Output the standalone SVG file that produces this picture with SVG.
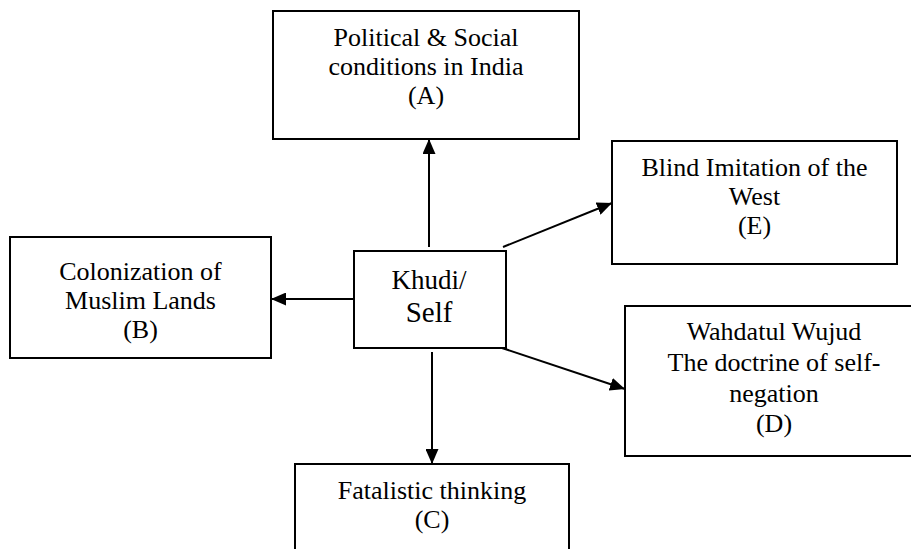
<svg xmlns="http://www.w3.org/2000/svg" width="911" height="549" viewBox="0 0 911 549">
<style>
.box{fill:#fff;stroke:#000;stroke-width:2}
.t{font-family:"Liberation Serif","Times New Roman",serif;font-size:26px;fill:#000;text-anchor:middle}
.c{stroke:#000;stroke-width:2;fill:none;marker-end:url(#ah)}
</style>
<defs>
<marker id="ah" markerUnits="userSpaceOnUse" markerWidth="15" markerHeight="13" refX="15" refY="6.5" orient="auto">
<path d="M0,0 L15,6.5 L0,13 z" fill="#000"/>
</marker>
</defs>
<rect width="911" height="549" fill="#fff"/>
<g id="A">
<rect class="box" x="273" y="11" width="306" height="128"/>
<text class="t" x="426" y="46">Political &amp; Social</text>
<text class="t" x="426" y="75">conditions in India</text>
<text class="t" x="426" y="104">(A)</text>
</g>
<g id="E">
<rect class="box" x="612" y="141" width="285" height="123"/>
<text class="t" x="754.5" y="176">Blind Imitation of the</text>
<text class="t" x="754.5" y="205">West</text>
<text class="t" x="754.5" y="234">(E)</text>
</g>
<g id="B">
<rect class="box" x="10" y="237" width="261" height="121"/>
<text class="t" x="140.5" y="280">Colonization of</text>
<text class="t" x="140.5" y="309">Muslim Lands</text>
<text class="t" x="140.5" y="338">(B)</text>
</g>
<g id="Khudi">
<rect class="box" x="354" y="251" width="152" height="97"/>
<text class="t" x="429" y="289" style="font-size:27px">Khudi/</text>
<text class="t" x="429" y="322" style="font-size:29px">Self</text>
</g>
<g id="D">
<rect class="box" x="625" y="306" width="298" height="150"/>
<text class="t" x="774" y="340">Wahdatul Wujud</text>
<text class="t" x="774" y="371">The doctrine of self-</text>
<text class="t" x="774" y="402">negation</text>
<text class="t" x="774" y="432">(D)</text>
</g>
<g id="C">
<rect class="box" x="295" y="464" width="274" height="100"/>
<text class="t" x="432" y="499">Fatalistic thinking</text>
<text class="t" x="432" y="528">(C)</text>
</g>
<g id="connectors">
<line class="c" x1="429" y1="247" x2="429" y2="139"/>
<line class="c" x1="354" y1="299" x2="271" y2="299"/>
<line class="c" x1="503" y1="247" x2="612" y2="203"/>
<line class="c" x1="502" y1="348" x2="625" y2="389"/>
<line class="c" x1="432" y1="352" x2="432" y2="464"/>
</g>
</svg>
